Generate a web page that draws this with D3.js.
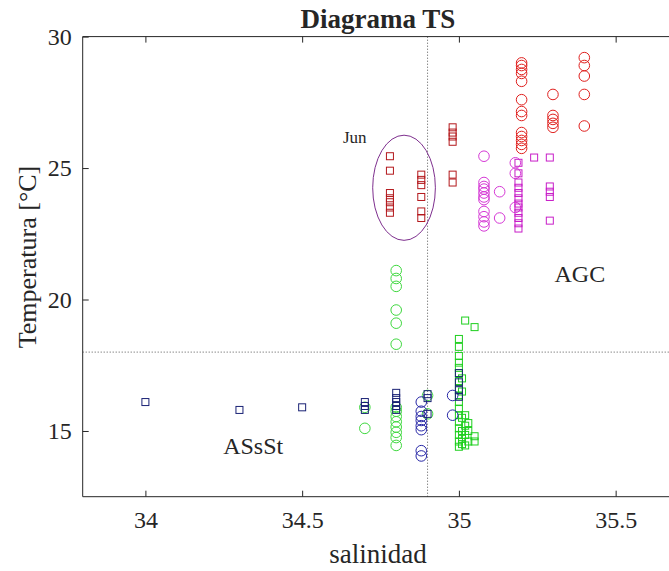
<!DOCTYPE html>
<html>
<head>
<meta charset="utf-8">
<script src="https://cdn.jsdelivr.net/npm/d3@7"></script>
<style>
  html, body { margin: 0; padding: 0; background: #fff; }
  svg { display: block; }
  text { font-family: "Liberation Serif", "Times New Roman", serif; fill: #262626; }
</style>
</head>
<body>
<svg id="chart" width="669" height="571"></svg>
<script>
// ---- data: [salinidad, temperatura] ----
const redCircles = [
  [35.2, 29.0], [35.2, 28.9], [35.2, 28.75], [35.2, 28.6], [35.2, 28.3], [35.2, 27.6],
  [35.2, 27.15], [35.2, 27.0], [35.2, 26.35], [35.2, 26.2], [35.2, 26.05], [35.2, 25.9], [35.2, 25.75],
  [35.3, 27.8], [35.3, 27.0], [35.3, 26.85], [35.3, 26.7], [35.3, 26.55],
  [35.4, 29.2], [35.4, 28.9], [35.4, 28.5], [35.4, 27.8], [35.4, 26.6]
];
const redSquares = [
  [34.78, 25.45], [34.78, 24.9], [34.78, 24.05], [34.78, 23.85], [34.78, 23.7], [34.78, 23.5], [34.78, 23.3],
  [34.88, 24.75], [34.88, 24.55], [34.88, 24.35], [34.88, 23.9], [34.88, 23.35], [34.88, 23.1],
  [34.98, 26.55], [34.98, 26.35], [34.98, 26.2], [34.98, 26.0], [34.98, 24.75], [34.98, 24.45]
];
const magentaCircles = [
  [35.08, 25.45], [35.08, 24.45], [35.08, 24.3], [35.08, 24.2], [35.08, 24.05], [35.08, 23.9],
  [35.08, 23.8], [35.08, 23.35], [35.08, 23.15], [35.08, 22.95], [35.08, 22.8],
  [35.13, 24.1], [35.13, 23.1],
  [35.18, 25.2], [35.18, 24.8], [35.18, 23.5]
];
const magentaSquares = [
  [35.19, 25.2], [35.19, 24.8], [35.19, 24.45], [35.19, 24.25], [35.19, 24.05], [35.19, 23.85],
  [35.19, 23.65], [35.19, 23.5], [35.19, 23.3], [35.19, 23.1], [35.19, 22.9], [35.19, 22.7],
  [35.24, 25.4],
  [35.29, 25.4], [35.29, 24.3], [35.29, 24.1], [35.29, 23.9], [35.29, 23.0]
];
const greenCircles = [
  [34.7, 15.9], [34.7, 15.1],
  [34.8, 21.1], [34.8, 20.8], [34.8, 20.5], [34.8, 19.6], [34.8, 19.1], [34.8, 18.3],
  [34.8, 15.9], [34.8, 15.75], [34.8, 15.55], [34.8, 15.35], [34.8, 15.15], [34.8, 14.95], [34.8, 14.75], [34.8, 14.45],
  [34.9, 16.35], [34.9, 15.65]
];
const greenSquares = [
  [35.0, 18.5], [35.0, 18.2], [35.0, 17.85], [35.0, 17.6], [35.0, 17.4], [35.0, 17.2], [35.0, 16.9],
  [35.0, 16.6], [35.0, 16.35], [35.0, 16.1], [35.0, 15.85], [35.0, 15.6], [35.0, 15.35], [35.0, 15.1],
  [35.0, 14.85], [35.0, 14.6], [35.0, 14.4],
  [35.01, 17.0], [35.01, 16.5], [35.01, 15.5], [35.01, 15.0], [35.01, 14.7], [35.01, 14.5],
  [35.02, 19.2], [35.02, 15.6], [35.02, 15.2], [35.02, 14.85], [35.02, 14.45],
  [35.03, 15.3], [35.03, 15.0], [35.03, 14.6],
  [35.05, 18.95], [35.05, 14.8], [35.05, 14.6]
];
const blueCircles = [
  [34.88, 16.1], [34.88, 15.75], [34.88, 15.55], [34.88, 15.4], [34.88, 15.2], [34.88, 15.05],
  [34.88, 14.25], [34.88, 14.05],
  [34.98, 16.35], [34.98, 15.6]
];
const blueSquares = [
  [34.0, 16.1], [34.3, 15.8], [34.5, 15.9],
  [34.7, 16.1], [34.7, 15.95], [34.7, 15.8],
  [34.8, 16.45], [34.8, 16.25], [34.8, 16.1], [34.8, 15.95], [34.8, 15.8],
  [34.9, 16.4], [34.9, 16.25], [34.9, 15.65],
  [35.0, 17.2], [35.0, 16.85], [35.0, 16.55], [35.0, 16.3]
];
const xTicks = [34, 34.5, 35, 35.5];
const yTicks = [15, 20, 25, 30];
const refSal = 34.9;
const refTemp = 18;
const junEllipse = { sal: 34.825, temp: 24.25, dSal: 0.1, dTemp: 2.0 };
const annotations = [
  { text: "Jun", sal: 34.63, temp: 25.95, size: 17 },
  { text: "AGC", sal: 35.305, temp: 20.65, size: 24 },
  { text: "ASsSt", sal: 34.248, temp: 14.12, size: 24 }
];

// ---- layout ----
const W = 669, H = 571;
const plotLeft = 82.7, plotTop = 36.6, plotBottom = 496.7;
const x = d3.scaleLinear().domain([33.8, 35.7]).range([plotLeft, plotLeft + 1.9 * 313.5]);
const y = d3.scaleLinear().domain([12.5, 30]).range([plotBottom, plotTop]);

const svg = d3.select("#chart");
svg.append("rect").attr("width", W).attr("height", H).attr("fill", "#fff");

svg.append("defs").append("clipPath").attr("id", "clip")
  .append("rect").attr("x", plotLeft).attr("y", plotTop).attr("width", W - plotLeft).attr("height", plotBottom - plotTop);

const plot = svg.append("g").attr("clip-path", "url(#clip)");

// reference dotted lines
plot.append("line")
  .attr("x1", x(refSal)).attr("x2", x(refSal)).attr("y1", y(12.5)).attr("y2", y(30))
  .attr("stroke", "#555").attr("stroke-width", 1).attr("stroke-dasharray", "1,2");
plot.append("line")
  .attr("x1", x(33.8)).attr("x2", x(35.7)).attr("y1", y(refTemp)).attr("y2", y(refTemp))
  .attr("stroke", "#555").attr("stroke-width", 1).attr("stroke-dasharray", "1,2");

const SQ = 7, R = 5.3;
function squares(data, color) {
  plot.append("g").selectAll("rect").data(data).join("rect")
    .attr("x", d => x(d[0]) - SQ / 2).attr("y", d => y(d[1]) - SQ / 2)
    .attr("width", SQ).attr("height", SQ)
    .attr("fill", "none").attr("stroke", color).attr("stroke-width", 1);
}
function circles(data, color) {
  plot.append("g").selectAll("circle").data(data).join("circle")
    .attr("cx", d => x(d[0])).attr("cy", d => y(d[1])).attr("r", R)
    .attr("fill", "none").attr("stroke", color).attr("stroke-width", 1);
}

squares(redSquares, "#b3181c");
circles(redCircles, "#e0201e");
circles(magentaCircles, "#d63ad6");
squares(magentaSquares, "#c81ec8");
circles(greenCircles, "#3ed83e");
squares(greenSquares, "#1ecf1e");
circles(blueCircles, "#2626a6");
squares(blueSquares, "#1a2275");

// ellipse
plot.append("ellipse")
  .attr("cx", x(junEllipse.sal)).attr("cy", y(junEllipse.temp))
  .attr("rx", x(junEllipse.sal + junEllipse.dSal) - x(junEllipse.sal))
  .attr("ry", y(junEllipse.temp - junEllipse.dTemp) - y(junEllipse.temp))
  .attr("fill", "none").attr("stroke", "#7E2F8E").attr("stroke-width", 1);

// annotations
annotations.forEach(a => {
  svg.append("text").attr("x", x(a.sal)).attr("y", y(a.temp))
    .attr("font-size", a.size).text(a.text);
});

// axes box
const axisColor = "#262626";
const g = svg.append("g");
g.append("line").attr("x1", plotLeft).attr("x2", W + 10).attr("y1", plotTop).attr("y2", plotTop).attr("stroke", axisColor);
g.append("line").attr("x1", plotLeft).attr("x2", W + 10).attr("y1", plotBottom).attr("y2", plotBottom).attr("stroke", axisColor);
g.append("line").attr("x1", plotLeft).attr("x2", plotLeft).attr("y1", plotTop).attr("y2", plotBottom).attr("stroke", axisColor);

// x ticks via d3 axis (inner ticks)
const xAxisB = d3.axisBottom(x).tickValues(xTicks).tickSize(-6).tickPadding(14).tickFormat(d3.format("~g"));
const gx = svg.append("g").attr("transform", `translate(0,${plotBottom})`).call(xAxisB);
gx.select(".domain").remove();
gx.selectAll("line").attr("stroke", axisColor);
gx.selectAll("text").attr("font-size", 24).attr("font-family", '"Liberation Serif", serif').attr("fill", axisColor);
const xAxisT = d3.axisTop(x).tickValues(xTicks).tickSize(-6).tickFormat("");
const gxt = svg.append("g").attr("transform", `translate(0,${plotTop})`).call(xAxisT);
gxt.select(".domain").remove();
gxt.selectAll("line").attr("stroke", axisColor);

const yAxis = d3.axisLeft(y).tickValues(yTicks).tickSize(-6).tickPadding(11).tickFormat(d3.format("~g"));
const gy = svg.append("g").attr("transform", `translate(${plotLeft},0)`).call(yAxis);
gy.select(".domain").remove();
gy.selectAll("line").attr("stroke", axisColor);
gy.selectAll("text").attr("font-size", 24).attr("font-family", '"Liberation Serif", serif').attr("fill", axisColor);

// titles
svg.append("text").attr("x", 378).attr("y", 28).attr("text-anchor", "middle")
  .attr("font-size", 27).attr("font-weight", "bold").attr("fill", "#000").text("Diagrama TS");
svg.append("text").attr("x", 378).attr("y", 563).attr("text-anchor", "middle")
  .attr("font-size", 27).text("salinidad");
svg.append("text").attr("transform", "translate(36,257) rotate(-90)").attr("text-anchor", "middle")
  .attr("font-size", 26).text("Temperatura [°C]");
</script>
</body>
</html>
